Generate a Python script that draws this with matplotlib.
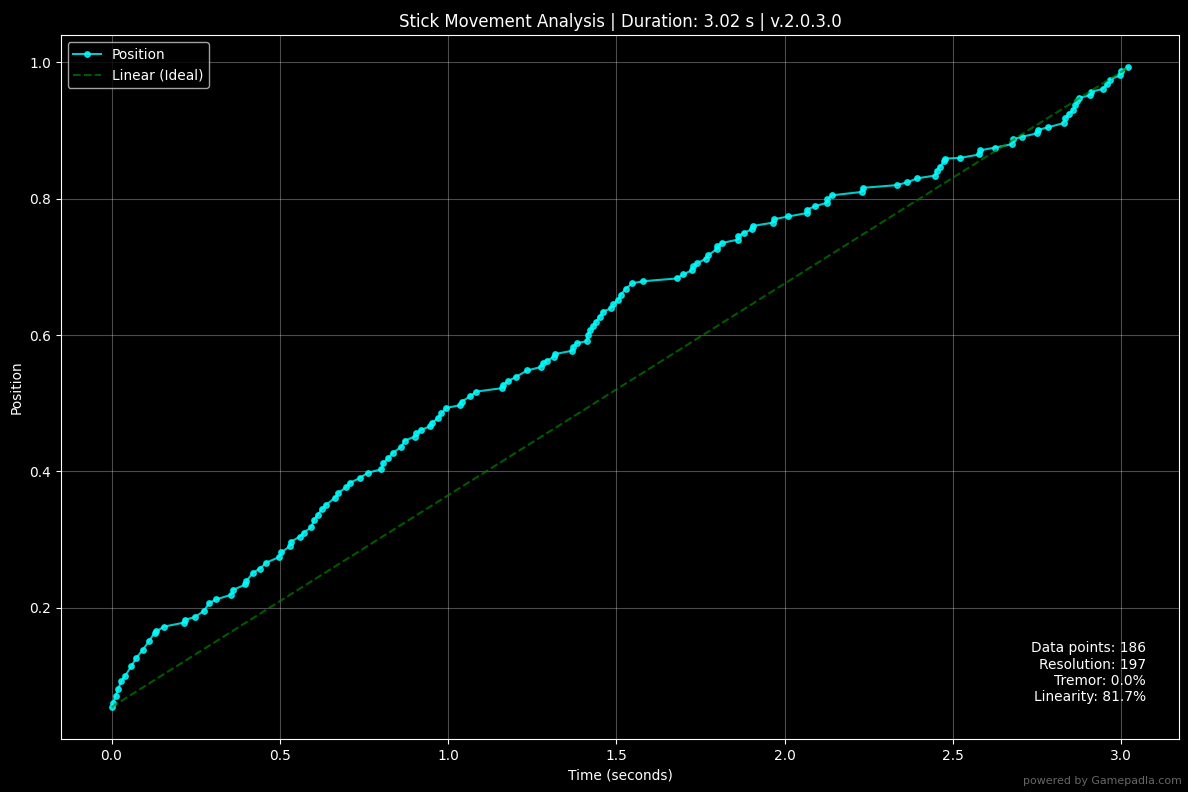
import numpy as np
import matplotlib
matplotlib.use("Agg")
import matplotlib.pyplot as plt

# stick position samples
time_s = [0.000, 0.004, 0.012, 0.019, 0.029, 0.039, 0.059, 0.073, 0.093, 0.111,
          0.128, 0.133, 0.155, 0.215, 0.217, 0.247, 0.274, 0.291, 0.311, 0.356,
          0.361, 0.398, 0.401, 0.420, 0.440, 0.460, 0.497, 0.505, 0.529, 0.534,
          0.559, 0.571, 0.594, 0.601, 0.613, 0.624, 0.638, 0.663, 0.673, 0.698,
          0.708, 0.737, 0.762, 0.802, 0.807, 0.822, 0.836, 0.861, 0.871, 0.901,
          0.906, 0.921, 0.946, 0.951, 0.970, 0.980, 0.995, 1.035, 1.040, 1.065,
          1.084, 1.159, 1.164, 1.178, 1.203, 1.235, 1.275, 1.283, 1.293, 1.314,
          1.317, 1.369, 1.372, 1.382, 1.412, 1.415, 1.421, 1.431, 1.439, 1.451,
          1.459, 1.483, 1.491, 1.505, 1.513, 1.528, 1.548, 1.580, 1.679, 1.699,
          1.724, 1.729, 1.739, 1.766, 1.773, 1.798, 1.800, 1.813, 1.861, 1.862,
          1.879, 1.902, 1.905, 1.966, 1.968, 2.011, 2.066, 2.067, 2.090, 2.125,
          2.127, 2.140, 2.229, 2.232, 2.333, 2.364, 2.394, 2.447, 2.452, 2.462,
          2.474, 2.477, 2.522, 2.579, 2.581, 2.624, 2.675, 2.678, 2.705, 2.751,
          2.753, 2.784, 2.829, 2.834, 2.844, 2.857, 2.864, 2.870, 2.876, 2.908,
          2.910, 2.945, 2.958, 2.966, 2.997, 2.999, 3.022]
position = [0.054, 0.060, 0.070, 0.080, 0.092, 0.099, 0.114, 0.126, 0.138, 0.151,
            0.163, 0.165, 0.172, 0.178, 0.182, 0.186, 0.195, 0.207, 0.212, 0.219,
            0.226, 0.234, 0.239, 0.251, 0.257, 0.266, 0.274, 0.281, 0.290, 0.297,
            0.304, 0.310, 0.318, 0.329, 0.336, 0.344, 0.351, 0.361, 0.368, 0.377,
            0.383, 0.390, 0.398, 0.403, 0.412, 0.419, 0.427, 0.436, 0.445, 0.451,
            0.456, 0.461, 0.466, 0.471, 0.478, 0.485, 0.493, 0.497, 0.502, 0.510,
            0.517, 0.522, 0.527, 0.532, 0.539, 0.548, 0.553, 0.559, 0.562, 0.568,
            0.572, 0.577, 0.583, 0.588, 0.591, 0.600, 0.607, 0.613, 0.619, 0.627,
            0.634, 0.639, 0.645, 0.652, 0.659, 0.668, 0.676, 0.679, 0.683, 0.689,
            0.695, 0.701, 0.705, 0.712, 0.717, 0.726, 0.730, 0.735, 0.740, 0.745,
            0.750, 0.755, 0.760, 0.765, 0.770, 0.774, 0.779, 0.784, 0.789, 0.794,
            0.799, 0.805, 0.810, 0.816, 0.820, 0.824, 0.830, 0.834, 0.841, 0.847,
            0.855, 0.859, 0.860, 0.865, 0.871, 0.875, 0.880, 0.887, 0.891, 0.896,
            0.901, 0.905, 0.911, 0.918, 0.924, 0.930, 0.937, 0.943, 0.948, 0.952,
            0.957, 0.961, 0.968, 0.975, 0.981, 0.987, 0.993]

stats_lines = ["Data points: 186", "Resolution: 197", "Tremor: 0.0%", "Linearity: 81.7%"]
title = "Stick Movement Analysis | Duration: 3.02 s | v.2.0.3.0"

plt.style.use("dark_background")
fig, ax = plt.subplots(figsize=(12, 8), dpi=99)
fig.subplots_adjust(left=0.0511, right=0.9927, top=0.9555, bottom=0.0668)

ax.plot(time_s, position, color="cyan", marker="o", markersize=4,
        linewidth=1.5, alpha=0.8, label="Position")
ax.plot([time_s[0], time_s[-1]], [position[0], position[-1]],
        color="green", linestyle="--", linewidth=1.5, alpha=0.7, label="Linear (Ideal)")

ax.set_title(title, fontsize=12)
ax.set_xlabel("Time (seconds)")
ax.set_ylabel("Position")
ax.grid(True, alpha=0.3)
ax.legend(loc="upper left")

ax.text(0.97, 0.05, "\n".join(stats_lines), transform=ax.transAxes,
        ha="right", va="bottom", fontsize=10, color="white")

fig.text(0.995, 0.008, "powered by Gamepadla.com", ha="right", va="bottom",
         fontsize=8, color="gray", alpha=0.8)

fig.savefig("out.png", dpi=99, facecolor="black")
